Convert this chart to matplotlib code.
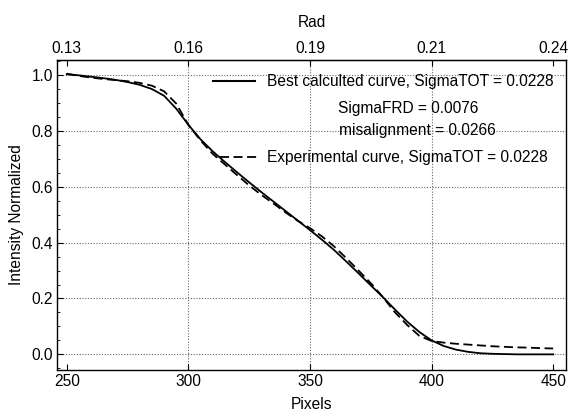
import numpy as np
import matplotlib
matplotlib.use("Agg")
import matplotlib.pyplot as plt

plt.rcParams['font.family'] = ['Liberation Sans', 'DejaVu Sans']

# values
pixels = [250, 255, 260, 265, 270, 275, 280, 285, 290, 295,
          300, 305, 310, 315, 320, 325, 330, 335, 340, 345,
          350, 355, 360, 365, 370, 375, 380, 385, 390, 395,
          400, 405, 410, 415, 420, 425, 430, 435, 440, 445, 450]

best_curve = [1.003, 0.999, 0.994, 0.989, 0.983, 0.975, 0.965, 0.950, 0.926, 0.880,
              0.822, 0.770, 0.727, 0.689, 0.652, 0.616, 0.581, 0.547, 0.513, 0.479,
              0.445, 0.410, 0.373, 0.332, 0.290, 0.247, 0.205, 0.160, 0.117, 0.080,
              0.050, 0.030, 0.017, 0.009, 0.004, 0.002, 0.001, 0.000, 0.000, 0.000, 0.000]

experimental_curve = [1.005, 0.997, 0.991, 0.986, 0.982, 0.978, 0.972, 0.962, 0.942, 0.898,
                      0.822, 0.766, 0.718, 0.680, 0.642, 0.605, 0.571, 0.540, 0.508, 0.478,
                      0.452, 0.422, 0.386, 0.344, 0.300, 0.255, 0.205, 0.150, 0.105, 0.066,
                      0.048, 0.042, 0.038, 0.035, 0.032, 0.029, 0.027, 0.025, 0.024, 0.022, 0.021]

pixel_ticks = [250, 300, 350, 400, 450]
rad_labels = ['0.13', '0.16', '0.19', '0.21', '0.24']
intensity_ticks = [0.0, 0.2, 0.4, 0.6, 0.8, 1.0]

legend_lines = ['Best calculted curve, SigmaTOT = 0.0228',
                'SigmaFRD = 0.0076',
                'misalignment = 0.0266',
                'Experimental curve, SigmaTOT = 0.0228']

fs = 11.2

fig = plt.figure(figsize=(5.69, 4.16), dpi=100)
ax = fig.add_axes([0.1002, 0.1106, 0.8946, 0.7452])

ax.plot(pixels, best_curve, color='black', lw=1.3)
ax.plot(pixels, experimental_curve, color='black', lw=1.3, ls=(0, (5, 2.5)))

ax.set_xlim(246, 455.3)
ax.set_ylim(-0.056, 1.054)

# grid: horizontal at every y tick, vertical only at the inner x ticks
for yv in intensity_ticks:
    ax.axhline(yv, color='#666666', lw=0.8, ls=(0, (1, 1.5)), zorder=0)
for xv in pixel_ticks[1:-1]:
    ax.axvline(xv, color='#666666', lw=0.8, ls=(0, (1, 1.5)), zorder=0)

ax.set_xticks(pixel_ticks)
ax.set_yticks(intensity_ticks)
ax.set_yticks(np.arange(-0.05, 1.051, 0.05), minor=True)
ax.set_yticklabels(['0.0', '0.2', '0.4', '0.6', '0.8', '1.0'])
ax.tick_params(axis='both', which='major', direction='in', length=4, width=0.8,
               labelsize=fs, colors='black', pad=3)
ax.tick_params(axis='y', which='minor', direction='in', length=2.5, width=0.6)
ax.tick_params(axis='x', which='minor', bottom=False)

top = ax.secondary_xaxis('top')
top.set_xticks(pixel_ticks)
top.set_xticklabels(rad_labels)
top.tick_params(direction='in', length=4, width=0.8, labelsize=fs, pad=3)
top.set_xlabel('Rad', fontsize=fs, labelpad=10)

for sp in ax.spines.values():
    sp.set_linewidth(1.0)

ax.set_xlabel('Pixels', fontsize=fs, labelpad=6)
ax.set_ylabel('Intensity Normalized', fontsize=fs, labelpad=5)

# legend drawn by hand (two centred middle lines, no frame)
ax.plot([0.306, 0.389], [0.932, 0.932], color='black', lw=1.5, transform=ax.transAxes)
ax.plot([0.320, 0.393], [0.687, 0.687], color='black', lw=1.3, ls=(0, (5, 2.5)),
        transform=ax.transAxes)
ax.text(0.413, 0.930, legend_lines[0], transform=ax.transAxes, fontsize=fs,
        ha='left', va='center')
ax.text(0.689, 0.845, legend_lines[1], transform=ax.transAxes, fontsize=fs,
        ha='center', va='center')
ax.text(0.707, 0.774, legend_lines[2], transform=ax.transAxes, fontsize=fs,
        ha='center', va='center')
ax.text(0.413, 0.687, legend_lines[3], transform=ax.transAxes, fontsize=fs,
        ha='left', va='center')

fig.savefig('out.png', dpi=100)
